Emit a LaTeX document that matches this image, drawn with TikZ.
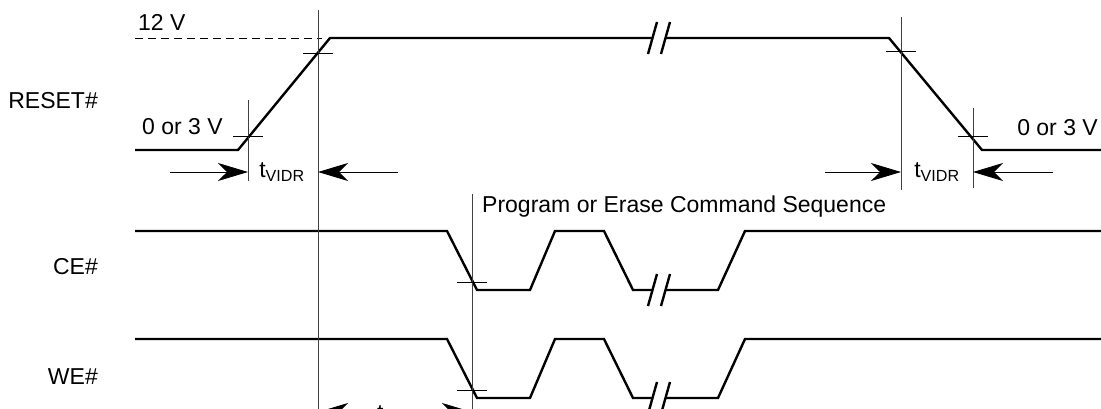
\documentclass[tikz,border=0pt]{standalone}
\usepackage{fontspec}
\setmainfont{Liberation Sans}
\usetikzlibrary{arrows.meta}

% break mark on a signal line: #1 = x, #2 = y
\newcommand{\breakmark}[2]{%
  \fill[white] ({#1-7.6},{#2+4}) -- ({#1-5.4},{#2-4}) -- ({#1+7.4},{#2-4}) -- ({#1+5.6},{#2+4}) -- cycle;
  \draw[sig] ({#1-11},{#2+16}) -- ({#1-2},{#2-16});
  \draw[sig] ({#1+2},{#2+16}) -- ({#1+11},{#2-16});
}

\begin{document}
\begin{tikzpicture}
		[x=1pt,y=-1pt,font=\fontsize{23}{27}\selectfont]
		\tikzstyle{sig}=[line width=2.4pt, line join=miter]
		\tikzstyle{guide}=[line width=1pt, black!75]
		\tikzstyle{tick}=[line width=0.9pt]
		\tikzstyle{dim}=[line width=0.9pt, -{Stealth[length=30pt,width=18pt,inset=9pt]}]
		\tikzstyle{lbl}=[inner sep=0pt]
		\useasboundingbox (0,0) rectangle (1101,408);
		%-----signal names
		 \node[lbl, anchor=east] (reset) at (98,101) {RESET\#};
		 \node[lbl, anchor=east] (ce) at (98,267) {CE\#};
		 \node[lbl, anchor=east] (we) at (98,377) {WE\#};
		%-----levels
		 \node[lbl, anchor=west] (high) at (138,22) {12 V};
		 \node[lbl, anchor=west] (lowl) at (142,127) {0 or 3 V};
		 \node[lbl, anchor=east] (lowr) at (1098,128) {0 or 3 V};
		 \node[lbl, anchor=west] (seq) at (482,207) {Program or Erase Command Sequence};
		%-----RESET#
		 \draw[line width=0.9pt, dash pattern=on 8pt off 5pt] (135,38) -- (322,38);
		 \draw[sig] (135,150) -- (238,150) -- (330,38) -- (889,38) -- (982,150) -- (1101,150);
		 \breakmark{659}{38}
		%-----CE#
		 \draw[sig] (135,231) -- (447,231) -- (477,290) -- (530,290) -- (555,231) -- (604,231)
		   -- (633,290) -- (718,290) -- (745,231) -- (1101,231);
		 \breakmark{659}{290}
		%-----WE#
		 \draw[sig] (135,339) -- (447,339) -- (477,398) -- (530,398) -- (555,339) -- (604,339)
		   -- (633,398) -- (718,398) -- (745,339) -- (1101,339);
		 \breakmark{659}{398}
		%-----guide lines
		 \coordinate (a1) at (248,100);  \coordinate (a2) at (248,181);
		 \coordinate (b1) at (318,10);   \coordinate (b2) at (318,420);
		 \coordinate (c1) at (472,194);  \coordinate (c2) at (472,420);
		 \coordinate (d1) at (901,17);   \coordinate (d2) at (901,190);
		 \coordinate (e1) at (973,108);  \coordinate (e2) at (973,188);
		 \foreach \from/\to in {a1/a2,b1/b2,c1/c2,d1/d2,e1/e2}
		 \draw[guide] (\from) -- (\to);
		%-----ticks
		 \foreach \x/\y in {248/136,318/53,901/51,973/136,472/282,472/390}
		 \draw[tick] (\x-15,\y) -- (\x+15,\y);
		%-----timings
		 \node[lbl] (tl) at (282,172) {t\textsubscript{VIDR}};
		 \node[lbl] (tr) at (937,172) {t\textsubscript{VIDR}};
		 \node[lbl] (tb) at (397,415) {t\textsubscript{RSP}};
		 \coordinate (p1) at (170,172);  \coordinate (q1) at (248,172);
		 \coordinate (p2) at (398,172);  \coordinate (q2) at (318,172);
		 \coordinate (p3) at (825,172);  \coordinate (q3) at (901,172);
		 \coordinate (p4) at (1053,172); \coordinate (q4) at (973,172);
		 \coordinate (p5) at (362,412);  \coordinate (q5) at (318,412);
		 \coordinate (p6) at (432,412);  \coordinate (q6) at (472,412);
		 \foreach \from/\to in {p1/q1,p2/q2,p3/q3,p4/q4,p5/q5,p6/q6}
		 \draw[dim] (\from) -- (\to);
\end{tikzpicture}
\end{document}
